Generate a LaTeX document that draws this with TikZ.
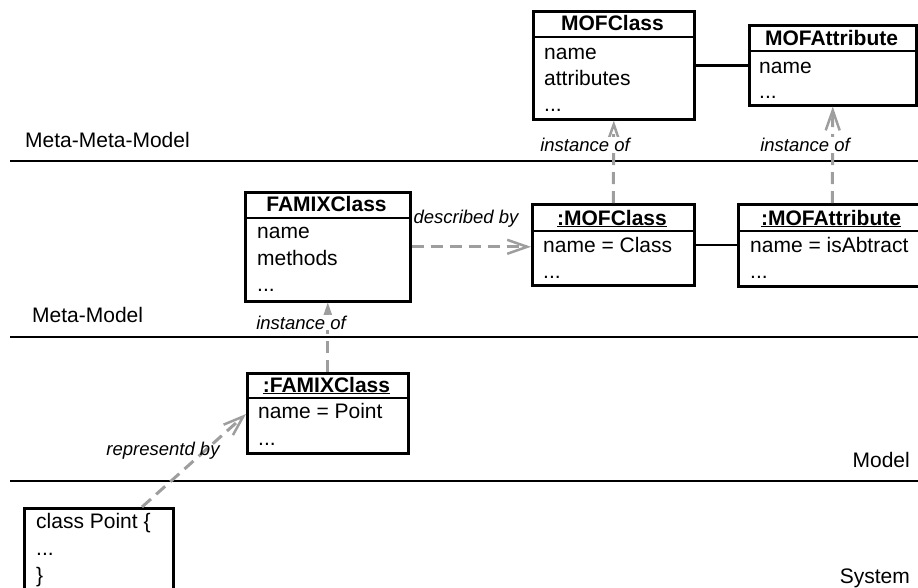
\documentclass[tikz,border=0pt]{standalone}
\usepackage{fontspec}
\setmainfont{Liberation Sans}
\usetikzlibrary{arrows.meta,calc}
\definecolor{depgray}{RGB}{158,158,158}
\begin{document}
\begin{tikzpicture}[x=1pt,y=-1pt,
  box/.style={draw, line width=2.6pt, inner sep=0pt, anchor=north west},
  sepline/.style={line width=2pt},
  ttl/.style={font=\fontsize{21}{25}\selectfont\bfseries, anchor=base, inner sep=0pt},
  txt/.style={font=\fontsize{21}{25}\selectfont, anchor=base west, inner sep=0pt},
  layertxt/.style={font=\fontsize{21}{25}\selectfont, inner sep=0pt},
  lbl/.style={font=\fontsize{18.5}{22}\selectfont\itshape, anchor=base, inner sep=1pt},
  layer/.style={line width=2.4pt},
  dep/.style={draw=depgray, line width=3pt, dash pattern=on 12pt off 7pt,
    -{Straight Barb[length=20pt,width=14pt,line width=2.5pt]}},
  assoc/.style={line width=2.5pt}]
\useasboundingbox (0,0) rectangle (918,587);
\clip (0,0) rectangle (918,587);

% layer lines
\coordinate (l1a) at (10,161); \coordinate (l1b) at (920,161);
\coordinate (l2a) at (10,337); \coordinate (l2b) at (920,337);
\coordinate (l3a) at (10,481); \coordinate (l3b) at (920,481);
\draw[layer] (l1a) -- (l1b);
\draw[layer] (l2a) -- (l2b);
\draw[layer] (l3a) -- (l3b);

\node[layertxt, anchor=base west] (lmmm) at (25,147) {Meta-Meta-Model};
\node[layertxt, anchor=base west] (lmm) at (32,322) {Meta-Model};
\node[layertxt, anchor=base east] (lm) at (910,467) {Model};
\node[layertxt, anchor=base east] (ls) at (910,583) {System};

% MOFClass
\node[box, minimum width=161pt, minimum height=108pt] (mofc) at (532,10) {};
\draw[sepline] ($(mofc.north west)+(0,27)$) -- ($(mofc.north east)+(0,27)$);
\node[ttl] (mofcT) at (612.5,30) {MOFClass};
\node[txt] (mofc1) at (544,59) {name};
\node[txt] (mofc2) at (544,85) {attributes};
\node[txt] (mofc3) at (544,111) {...};

% MOFAttribute
\node[box, minimum width=167pt, minimum height=80pt] (mofa) at (748,24) {};
\draw[sepline] ($(mofa.north west)+(0,27)$) -- ($(mofa.north east)+(0,27)$);
\node[ttl] (mofaT) at (831.5,45) {MOFAttribute};
\node[txt] (mofa1) at (759,73) {name};
\node[txt] (mofa2) at (759,98) {...};

% FAMIXClass
\node[box, minimum width=165pt, minimum height=109pt] (famix) at (244,191) {};
\draw[sepline] ($(famix.north west)+(0,27)$) -- ($(famix.north east)+(0,27)$);
\node[ttl] (famixT) at (326.5,211) {FAMIXClass};
\node[txt] (famix1) at (257,238) {name};
\node[txt] (famix2) at (257,265) {methods};
\node[txt] (famix3) at (257,291) {...};

% :MOFClass
\node[box, minimum width=162pt, minimum height=81pt] (imofc) at (531,203) {};
\draw[sepline] ($(imofc.north west)+(0,28)$) -- ($(imofc.north east)+(0,28)$);
\node[ttl] (imofcT) at (612,225) {\underline{:MOFClass}};
\node[txt] (imofc1) at (543,252) {name = Class};
\node[txt] (imofc2) at (543,278) {...};

% :MOFAttribute
\node[box, minimum width=188pt, minimum height=82pt] (imofa) at (737,203) {};
\draw[sepline] ($(imofa.north west)+(0,28)$) -- ($(imofa.north east)+(0,28)$);
\node[ttl] (imofaT) at (831,225) {\underline{:MOFAttribute}};
\node[txt] (imofa1) at (750,252) {name = isAbtract};
\node[txt] (imofa2) at (750,278) {...};

% :FAMIXClass
\node[box, minimum width=161pt, minimum height=80pt] (ifam) at (246,372) {};
\draw[sepline] ($(ifam.north west)+(0,26)$) -- ($(ifam.north east)+(0,26)$);
\node[ttl] (ifamT) at (326.5,392) {\underline{:FAMIXClass}};
\node[txt] (ifam1) at (258,418) {name = Point};
\node[txt] (ifam2) at (258,445) {...};

% class Point
\node[box, minimum width=149pt, minimum height=95pt] (cpt) at (23,507) {};
\node[txt] (cpt1) at (36,528) {class Point \{};
\node[txt] (cpt2) at (36,555) {...};
\node[txt] (cpt3) at (36,582) {\}};

% associations
\draw[assoc] (mofc.east) -- (mofc.east -| mofa.west);
\draw[assoc] (imofc.east) -- (imofc.east -| imofa.west);

% dependencies
\draw[dep] (imofc.north) -- (mofc.south);
\draw[dep] (imofa.north) -- (mofa.south);
\draw[dep] (famix.east) -- (famix.east -| imofc.west);
\draw[dep] (ifam.north) -- (famix.south);
\coordinate (cptTop) at ($(cpt.north west)+(119,0)$);
\coordinate (ifamIn) at ($(ifam.north west)+(0,42)$);
\draw[dep] (cptTop) -- (ifamIn);

% labels
\node[lbl, fill=white] (lio1) at (585,151) {instance of};
\node[lbl, fill=white] (lio2) at (805,151) {instance of};
\node[lbl] (ldb) at (466,223) {described by};
\node[lbl, fill=white] (lio3) at (301,329) {instance of};
\node[lbl] (lrb) at (163,455) {representd by};
\end{tikzpicture}
\end{document}
